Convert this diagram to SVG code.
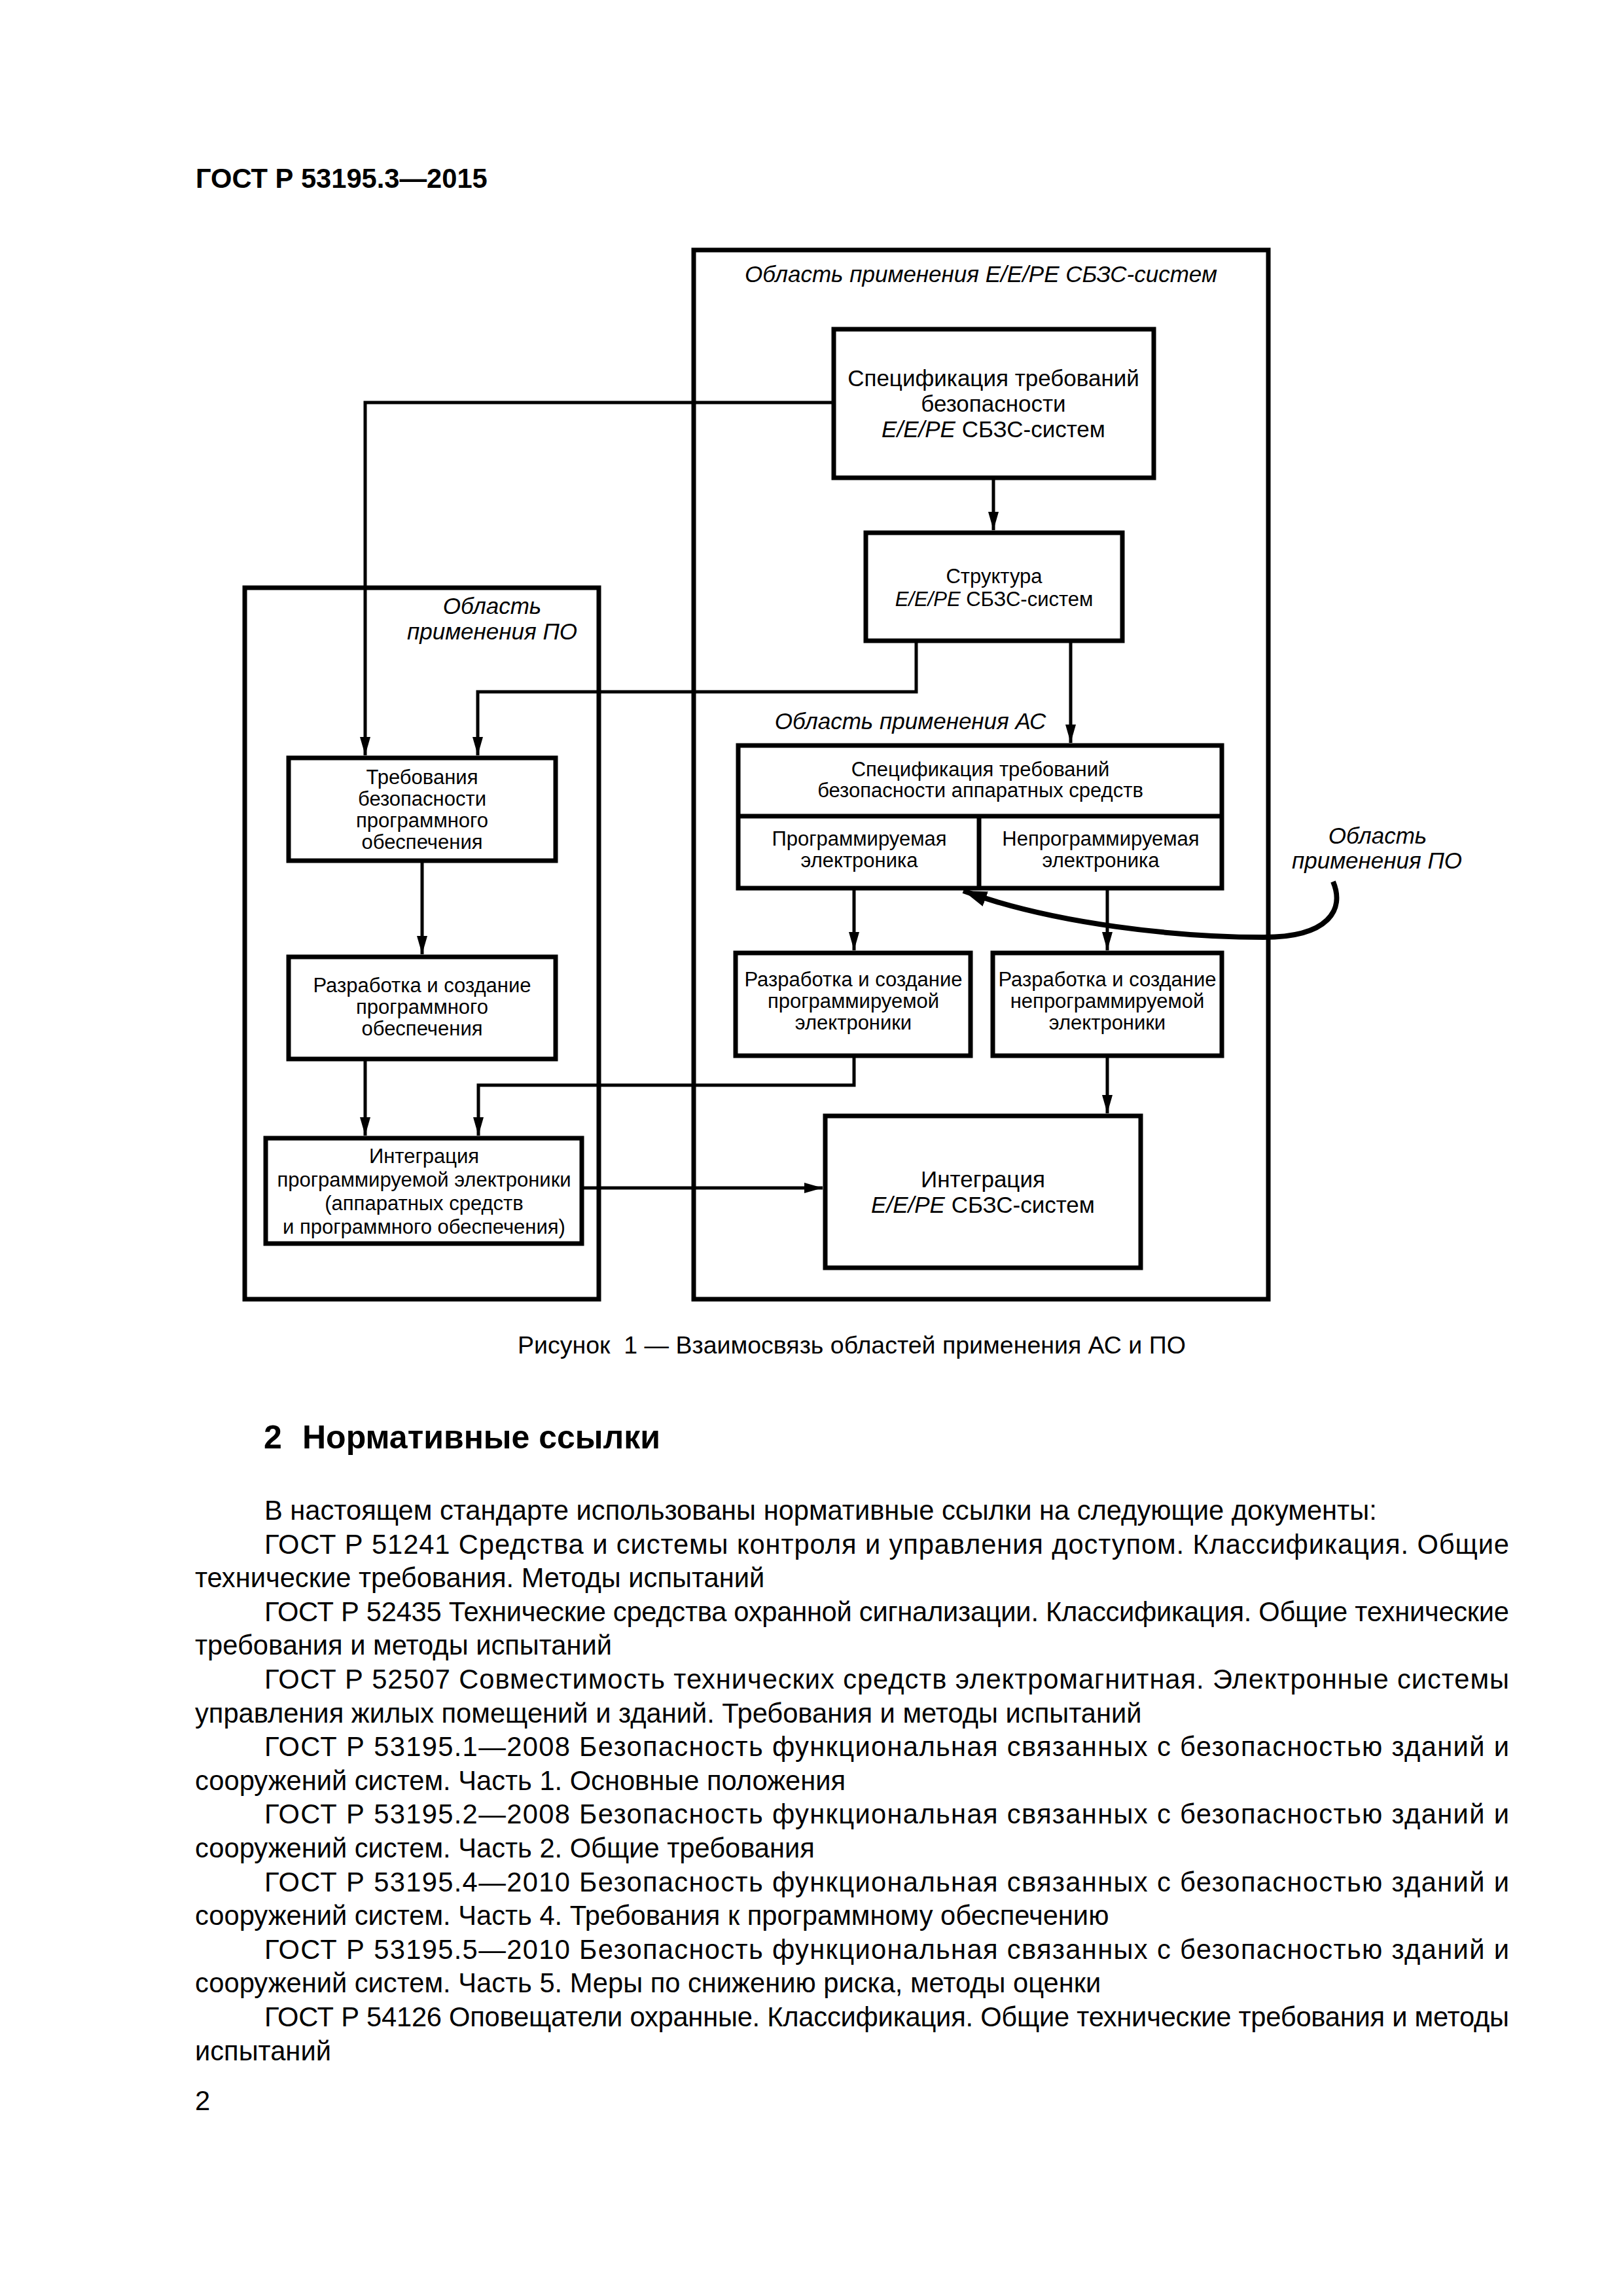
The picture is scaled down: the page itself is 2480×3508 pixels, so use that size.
<svg xmlns="http://www.w3.org/2000/svg" width="2480" height="3508" viewBox="0 0 2480 3508">
<style>
text{font-family:"Liberation Sans",Arial,sans-serif;fill:#000}
.box{fill:none;stroke:#000;stroke-width:7}
.con{fill:none;stroke:#000;stroke-width:5}
.f35{font-size:35px}
.f31{font-size:31px}
.it{font-style:italic}
.c{text-anchor:middle}
.body{font-size:41.67px}
.b{font-weight:bold}
</style>
<defs>
<marker id="ah" markerUnits="userSpaceOnUse" markerWidth="28" markerHeight="16" refX="28" refY="8" orient="auto">
<path d="M0,0 L28,8 L0,16 z" fill="#000"/>
</marker>
<marker id="ahc" markerUnits="userSpaceOnUse" markerWidth="38" markerHeight="24" refX="36" refY="12" orient="auto">
<path d="M0,0 L36,12 L0,24 z" fill="#000"/>
</marker>
</defs>
<rect width="2480" height="3508" fill="#fff"/>

<text class="body b" x="299" y="287">ГОСТ Р 53195.3—2015</text>

<g id="area-ee">
<rect class="box" x="1060" y="382" width="878" height="1603"/>
<text class="f35 it c" x="1499" y="431">Область применения E/E/PE СБЗС-систем</text>
</g>
<g id="area-po">
<rect class="box" x="374" y="898" width="541" height="1087"/>
<text class="f35 it c" x="752" y="938">Область</text>
<text class="f35 it c" x="752" y="977">применения ПО</text>
</g>
<g id="label-as">
<text class="f35 it c" x="1391" y="1114">Область применения АС</text>
</g>
<g id="label-po-right">
<text class="f35 it c" x="2105" y="1289">Область</text>
<text class="f35 it c" x="2104" y="1327">применения ПО</text>
</g>

<g id="spec">
<rect class="box" x="1274" y="503" width="489" height="227"/>
<text class="f35 c" x="1518" y="590">Спецификация требований</text>
<text class="f35 c" x="1518" y="629">безопасности</text>
<text class="f35 c" x="1518" y="668"><tspan class="it">E/E/PE</tspan> СБЗС-систем</text>
</g>
<g id="structure">
<rect class="box" x="1323" y="814" width="392" height="165"/>
<text class="f31 c" x="1519" y="891">Структура</text>
<text class="f31 c" x="1519" y="926"><tspan class="it">E/E/PE</tspan> СБЗС-систем</text>
</g>
<g id="req-po">
<rect class="box" x="441" y="1158" width="408" height="157"/>
<text class="f31 c" x="645" y="1198">Требования</text>
<text class="f31 c" x="645" y="1231">безопасности</text>
<text class="f31 c" x="645" y="1264">программного</text>
<text class="f31 c" x="645" y="1297">обеспечения</text>
</g>
<g id="dev-po">
<rect class="box" x="441" y="1462" width="408" height="156"/>
<text class="f31 c" x="645" y="1516">Разработка и создание</text>
<text class="f31 c" x="645" y="1549">программного</text>
<text class="f31 c" x="645" y="1582">обеспечения</text>
</g>
<g id="hw-spec">
<rect class="box" x="1128" y="1139" width="739" height="218"/>
<line class="box" x1="1128" y1="1247" x2="1867" y2="1247"/>
<line class="box" x1="1496" y1="1247" x2="1496" y2="1357"/>
<text class="f31 c" x="1498" y="1186">Спецификация требований</text>
<text class="f31 c" x="1498" y="1218">безопасности аппаратных средств</text>
<text class="f31 c" x="1313" y="1292">Программируемая</text>
<text class="f31 c" x="1313" y="1325">электроника</text>
<text class="f31 c" x="1682" y="1292">Непрограммируемая</text>
<text class="f31 c" x="1682" y="1325">электроника</text>
</g>
<g id="dev-pe">
<rect class="box" x="1124" y="1456" width="359" height="157"/>
<text class="f31 c" x="1304" y="1507">Разработка и создание</text>
<text class="f31 c" x="1304" y="1540">программируемой</text>
<text class="f31 c" x="1304" y="1573">электроники</text>
</g>
<g id="dev-npe">
<rect class="box" x="1517" y="1456" width="350" height="157"/>
<text class="f31 c" x="1692" y="1507">Разработка и создание</text>
<text class="f31 c" x="1692" y="1540">непрограммируемой</text>
<text class="f31 c" x="1692" y="1573">электроники</text>
</g>
<g id="int-pe">
<rect class="box" x="406" y="1739" width="483" height="161"/>
<text class="f31 c" x="648" y="1777">Интеграция</text>
<text class="f31 c" x="648" y="1813">программируемой электроники</text>
<text class="f31 c" x="648" y="1849">(аппаратных средств</text>
<text class="f31 c" x="648" y="1885">и программного обеспечения)</text>
</g>
<g id="int-ee">
<rect class="box" x="1261" y="1705" width="482" height="232"/>
<text class="f35 c" x="1502" y="1814">Интеграция</text>
<text class="f35 c" x="1502" y="1853"><tspan class="it">E/E/PE</tspan> СБЗС-систем</text>
</g>

<g id="connectors">
<path class="con" d="M1518,730 V810" marker-end="url(#ah)"/>
<path class="con" d="M1274,615 H558 V1154" marker-end="url(#ah)"/>
<path class="con" d="M1400,979 V1057 H730 V1154" marker-end="url(#ah)"/>
<path class="con" d="M1636,979 V1135" marker-end="url(#ah)"/>
<path class="con" d="M645,1315 V1458" marker-end="url(#ah)"/>
<path class="con" d="M1305,1357 V1452" marker-end="url(#ah)"/>
<path class="con" d="M1692,1357 V1452" marker-end="url(#ah)"/>
<path class="con" d="M1305,1613 V1658 H731 V1735" marker-end="url(#ah)"/>
<path class="con" d="M558,1618 V1735" marker-end="url(#ah)"/>
<path class="con" d="M1692,1613 V1701" marker-end="url(#ah)"/>
<path class="con" d="M889,1815 H1257" marker-end="url(#ah)"/>
<path fill="none" stroke="#000" stroke-width="8" d="M2037,1347 C2055,1390 2030,1432 1931,1432 C1800,1432 1610,1412 1472,1361" marker-end="url(#ahc)"/>
</g>

<text style="font-size:37.5px" x="791" y="2068" xml:space="preserve">Рисунок  1 — Взаимосвязь областей применения АС и ПО</text>

<text class="b" style="font-size:50px" x="403" y="2213">2</text>
<text class="b" style="font-size:50px" x="462" y="2213">Нормативные ссылки</text>

<g id="body-text" class="body">
<text class="body" x="404" y="2322">В настоящем стандарте использованы нормативные ссылки на следующие документы:</text>
<text class="body" x="404" y="2373.6" textLength="1902" lengthAdjust="spacing">ГОСТ Р 51241 Средства и системы контроля и управления доступом. Классификация. Общие</text>
<text class="body" x="298" y="2425.2">технические требования. Методы испытаний</text>
<text class="body" x="404" y="2476.8" textLength="1902" lengthAdjust="spacing">ГОСТ Р 52435 Технические средства охранной сигнализации. Классификация. Общие технические</text>
<text class="body" x="298" y="2528.4">требования и методы испытаний</text>
<text class="body" x="404" y="2580" textLength="1902" lengthAdjust="spacing">ГОСТ Р 52507 Совместимость технических средств электромагнитная. Электронные системы</text>
<text class="body" x="298" y="2631.6">управления жилых помещений и зданий. Требования и методы испытаний</text>
<text class="body" x="404" y="2683.2" textLength="1902" lengthAdjust="spacing">ГОСТ Р 53195.1—2008 Безопасность функциональная связанных с безопасностью зданий и</text>
<text class="body" x="298" y="2734.8">сооружений систем. Часть 1. Основные положения</text>
<text class="body" x="404" y="2786.4" textLength="1902" lengthAdjust="spacing">ГОСТ Р 53195.2—2008 Безопасность функциональная связанных с безопасностью зданий и</text>
<text class="body" x="298" y="2838">сооружений систем. Часть 2. Общие требования</text>
<text class="body" x="404" y="2889.6" textLength="1902" lengthAdjust="spacing">ГОСТ Р 53195.4—2010 Безопасность функциональная связанных с безопасностью зданий и</text>
<text class="body" x="298" y="2941.2">сооружений систем. Часть 4. Требования к программному обеспечению</text>
<text class="body" x="404" y="2992.8" textLength="1902" lengthAdjust="spacing">ГОСТ Р 53195.5—2010 Безопасность функциональная связанных с безопасностью зданий и</text>
<text class="body" x="298" y="3044.4">сооружений систем. Часть 5. Меры по снижению риска, методы оценки</text>
<text class="body" x="404" y="3096" textLength="1902" lengthAdjust="spacing">ГОСТ Р 54126 Оповещатели охранные. Классификация. Общие технические требования и методы</text>
<text class="body" x="298" y="3147.6">испытаний</text>
</g>

<text class="body" x="298" y="3224">2</text>
</svg>
